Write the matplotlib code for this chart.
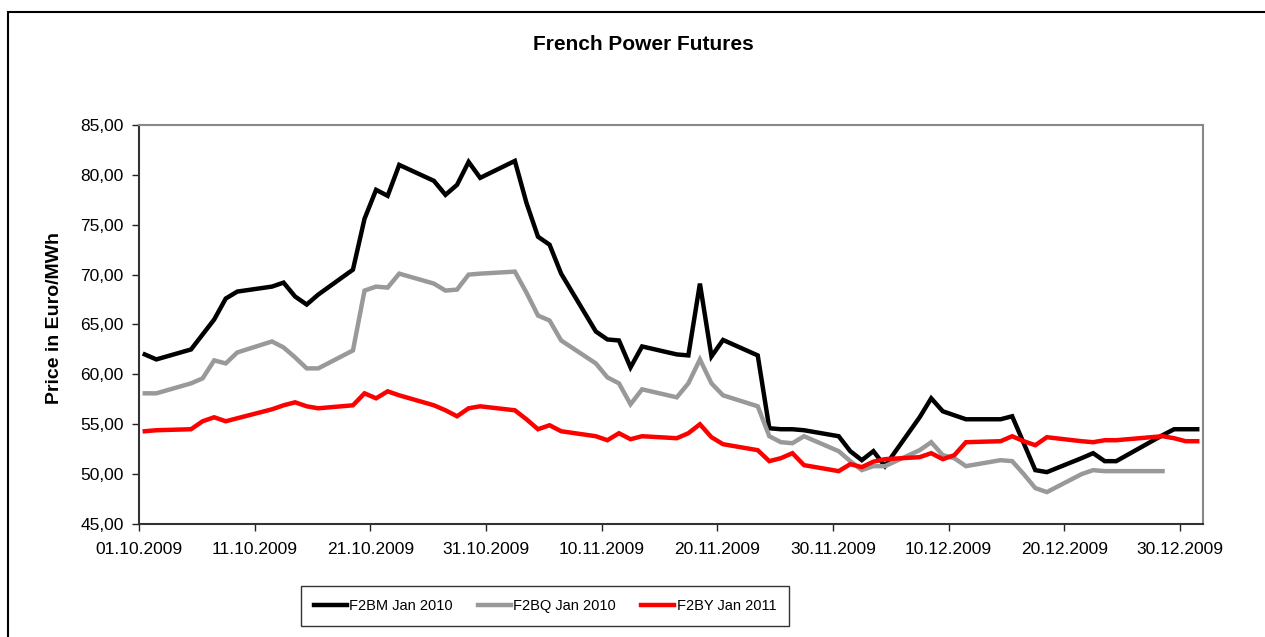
import matplotlib
matplotlib.use('Agg')
from matplotlib import pyplot as plt
import matplotlib.dates as mdates
from matplotlib.patches import Rectangle
import pandas as pd
import numpy as np

plt.rcParams['font.family'] = ['Liberation Sans', 'DejaVu Sans']

# trading days (Dec 25 missing)
dates = ['2009-10-01', '2009-10-02', '2009-10-05', '2009-10-06', '2009-10-07', '2009-10-08', '2009-10-09',
         '2009-10-12', '2009-10-13', '2009-10-14', '2009-10-15', '2009-10-16', '2009-10-19', '2009-10-20',
         '2009-10-21', '2009-10-22', '2009-10-23', '2009-10-26', '2009-10-27', '2009-10-28', '2009-10-29',
         '2009-10-30',
         '2009-11-02', '2009-11-03', '2009-11-04', '2009-11-05', '2009-11-06', '2009-11-09', '2009-11-10',
         '2009-11-11', '2009-11-12', '2009-11-13', '2009-11-16', '2009-11-17', '2009-11-18', '2009-11-19',
         '2009-11-20', '2009-11-23', '2009-11-24', '2009-11-25', '2009-11-26', '2009-11-27', '2009-11-30',
         '2009-12-01', '2009-12-02', '2009-12-03', '2009-12-04', '2009-12-07', '2009-12-08', '2009-12-09',
         '2009-12-10', '2009-12-11', '2009-12-14', '2009-12-15', '2009-12-16', '2009-12-17', '2009-12-18',
         '2009-12-21', '2009-12-22', '2009-12-23', '2009-12-24', '2009-12-28', '2009-12-29', '2009-12-30',
         '2009-12-31']

f2bm = [62.0, 61.5, 62.5, 64.0, 65.5, 67.6, 68.3, 68.8, 69.2, 67.8, 67.0, 68.0, 70.5, 75.6, 78.5, 77.9, 81.0,
        79.4, 78.0, 79.0, 81.3, 79.7,
        81.4, 77.2, 73.8, 73.0, 70.1, 64.3, 63.5, 63.4, 60.7, 62.8, 62.0, 61.9, 69.1, 61.8, 63.45, 61.9,
        54.6, 54.5, 54.5, 54.4, 53.8,
        52.3, 51.4, 52.3, 50.8, 55.7, 57.6, 56.3, 55.9, 55.5, 55.5, 55.8, 53.1, 50.4, 50.2, 51.6, 52.1,
        51.3, 51.3, 53.9, 54.5, 54.5, 54.5]

f2bq = [58.1, 58.1, 59.1, 59.6, 61.4, 61.1, 62.2, 63.3, 62.7, 61.7, 60.6, 60.6, 62.4, 68.4, 68.8, 68.7, 70.1,
        69.1, 68.4, 68.5, 70.0, 70.1,
        70.3, 68.2, 65.9, 65.4, 63.4, 61.1, 59.7, 59.1, 57.0, 58.5, 57.7, 59.1, 61.5, 59.1, 57.9, 56.8,
        53.8, 53.2, 53.1, 53.8, 52.3,
        51.3, 50.4, 50.8, 50.8, 52.4, 53.2, 51.9, 51.6, 50.8, 51.4, 51.3, 50.0, 48.6, 48.2, 50.0, 50.4,
        50.3, 50.3, 50.3, np.nan, np.nan, np.nan]

f2by = [54.3, 54.4, 54.5, 55.3, 55.7, 55.3, 55.6, 56.5, 56.9, 57.2, 56.8, 56.6, 56.9, 58.1, 57.6, 58.3, 57.9,
        56.9, 56.4, 55.8, 56.6, 56.8,
        56.4, 55.5, 54.5, 54.9, 54.3, 53.8, 53.4, 54.1, 53.5, 53.8, 53.6, 54.1, 55.0, 53.7, 53.0, 52.4,
        51.3, 51.6, 52.1, 50.9, 50.3,
        51.0, 50.7, 51.25, 51.5, 51.7, 52.1, 51.5, 51.9, 53.2, 53.3, 53.8, 53.3, 52.9, 53.7, 53.3, 53.2,
        53.4, 53.4, 53.8, 53.6, 53.3, 53.3]

labels = ['F2BM Jan 2010', 'F2BQ Jan 2010', 'F2BY Jan 2011']
colors = ['#000000', '#999999', '#ff0000']

# points sit in the middle of each day slot
x = pd.to_datetime(dates) + pd.Timedelta(hours=12)

fig = plt.figure(figsize=(12.65, 6.37), dpi=100)
ax = fig.add_axes([139 / 1265, 1 - 524 / 637, (1203 - 139) / 1265, (524 - 125) / 637])

for series, lab, col in zip([f2bm, f2bq, f2by], labels, colors):
    ax.plot(x, series, color=col, lw=3.2, label=lab, solid_joinstyle='miter')

ax.set_xlim(pd.Timestamp('2009-10-01'), pd.Timestamp('2010-01-01'))
ax.set_ylim(45, 85)
ax.set_yticks(np.arange(45, 86, 5))
ax.set_yticklabels([f'{v:.2f}'.replace('.', ',') for v in np.arange(45, 86, 5)])
ax.set_xticks(pd.date_range('2009-10-01', periods=10, freq='10D'))
ax.xaxis.set_major_formatter(mdates.DateFormatter('%d.%m.%Y'))
ax.tick_params(labelsize=12.5, length=5, width=1, direction='out', colors='#222222', labelcolor='black')
ax.tick_params(axis='x', pad=8)
ax.tick_params(axis='y', pad=6)

for side in ['top', 'right']:
    ax.spines[side].set_color('#888888')
    ax.spines[side].set_linewidth(1.5)
for side in ['left', 'bottom']:
    ax.spines[side].set_color('#333333')
    ax.spines[side].set_linewidth(1.5)

fig.text(55 / 1265, 1 - 318 / 637, 'Price in Euro/MWh', rotation=90, ha='center', va='center',
         fontsize=14, fontweight='bold')

fig.text(643 / 1265, 1 - 44 / 637, 'French Power Futures', ha='center', va='center',
         fontsize=15, fontweight='bold')

leg = fig.legend(loc='center', bbox_to_anchor=(545 / 1265, 1 - 606 / 637), ncol=3, fontsize=10.5,
                 frameon=True, fancybox=False, edgecolor='black', handlelength=2.26,
                 handletextpad=0.15, columnspacing=1.75, borderpad=0.9)
leg.get_frame().set_linewidth(1.0)

# outer chart frame
fig.patches.append(Rectangle((8 / 1265, -0.05), 1.1, 1 - 11.5 / 637 + 0.05, transform=fig.transFigure,
                             fill=False, edgecolor='black', lw=1.5, clip_on=False))

fig.savefig('out.png', dpi=100)
